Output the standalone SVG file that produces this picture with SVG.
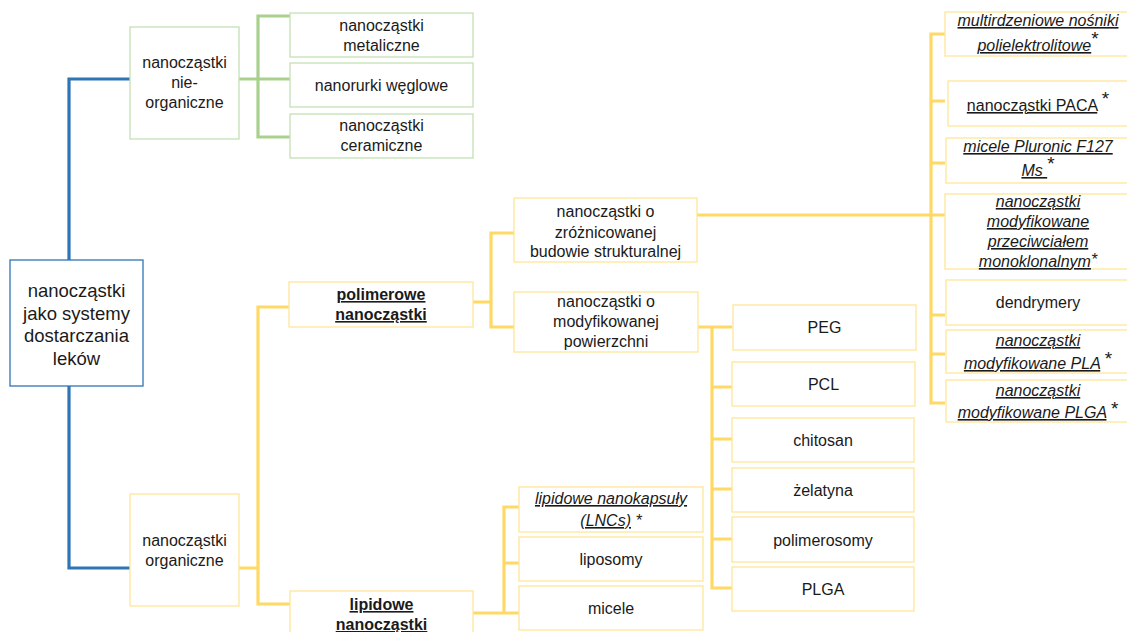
<svg xmlns="http://www.w3.org/2000/svg" width="1127" height="632" viewBox="0 0 1127 632">
<style>
.bx{fill:#fff;stroke-width:1.3}
.bb{stroke:#2E75B6}
.bg{stroke:#C5E0B4}
.by{stroke:#FFE699}
.cb{stroke:#2E75B6;stroke-width:3.2;fill:none}
.cg{stroke:#A9D18E;stroke-width:3.2;fill:none}
.cy{stroke:#FFD966;stroke-width:3.2;fill:none}
text{font-family:"Liberation Sans",Arial,sans-serif;font-size:16px;fill:#1a1a1a;text-anchor:middle}
.r{font-size:18.5px}
.bo{font-weight:bold;text-decoration:underline}
.it{font-style:italic}
.u{text-decoration:underline}
.st{font-size:19px;font-style:normal}
</style>
<rect width="1127" height="632" fill="#fff"/>
<g id="connectors">
<path class="cb" d="M130,79H69V260M69,386V568H130"/>
<path class="cg" d="M239,79H258M290,16H258V137H290M258,79H290"/>
<path class="cy" d="M239,568H258M289,307H258V604H290"/>
<path class="cy" d="M473,302H491M514,233H491V327H514"/>
<path class="cy" d="M697,215H931M945,34H931V403H945M931,101H945M931,163H945M931,215H945M931,315H945M931,354H945"/>
<path class="cy" d="M698,327H712M732,327H712V588H732M712,387H732M712,439H732M712,489H732M712,539H732"/>
<path class="cy" d="M473,613H504M519,507H504V613H519M504,563H519"/>
</g>
<g id="root"><rect class="bx bb" x="10" y="260" width="133" height="126"/>
<text class="r" x="76.5" y="297">nanocząstki</text><text class="r" x="76.5" y="320">jako systemy</text><text class="r" x="76.5" y="342">dostarczania</text><text class="r" x="76.5" y="365">leków</text></g>
<g id="nieorganiczne"><rect class="bx bg" x="130" y="27" width="109" height="112"/>
<text x="184.5" y="68">nanocząstki</text><text x="184.5" y="88">nie-</text><text x="184.5" y="108">organiczne</text></g>
<g id="metaliczne"><rect class="bx bg" x="290" y="13" width="183" height="44"/>
<text x="381.5" y="31">nanocząstki</text><text x="381.5" y="51">metaliczne</text></g>
<g id="nanorurki"><rect class="bx bg" x="290" y="63" width="183" height="44"/>
<text x="381.5" y="91">nanorurki węglowe</text></g>
<g id="ceramiczne"><rect class="bx bg" x="290" y="114" width="183" height="44"/>
<text x="381.5" y="131">nanocząstki</text><text x="381.5" y="151">ceramiczne</text></g>
<g id="organiczne"><rect class="bx by" x="130" y="494" width="109" height="112"/>
<text x="184.5" y="546">nanocząstki</text><text x="184.5" y="566">organiczne</text></g>
<g id="polimerowe"><rect class="bx by" x="289" y="282" width="184" height="45"/>
<text class="bo" x="381" y="300">polimerowe</text><text class="bo" x="381" y="320">nanocząstki</text></g>
<g id="lipidowe"><rect class="bx by" x="290" y="591" width="183" height="50"/>
<text class="bo" x="381.5" y="610">lipidowe</text><text class="bo" x="381.5" y="630">nanocząstki</text></g>
<g id="zroznicowanej"><rect class="bx by" x="514" y="198" width="183" height="64"/>
<text x="605.5" y="217">nanocząstki o</text><text x="605.5" y="238">zróżnicowanej</text><text x="605.5" y="257">budowie strukturalnej</text></g>
<g id="modyfikowanej"><rect class="bx by" x="514" y="292" width="184" height="60"/>
<text x="606" y="307">nanocząstki o</text><text x="606" y="327">modyfikowanej</text><text x="606" y="347">powierzchni</text></g>
<g id="PEG"><rect class="bx by" x="733" y="305" width="183" height="45"/><text x="824.5" y="333">PEG</text></g>
<g id="PCL"><rect class="bx by" x="732" y="362" width="183" height="44"/><text x="823.5" y="390">PCL</text></g>
<g id="chitosan"><rect class="bx by" x="732" y="418" width="182" height="44"/><text x="823" y="446">chitosan</text></g>
<g id="zelatyna"><rect class="bx by" x="732" y="468" width="182" height="44"/><text x="823" y="496">żelatyna</text></g>
<g id="polimerosomy"><rect class="bx by" x="732" y="517" width="182" height="45"/><text x="823" y="546">polimerosomy</text></g>
<g id="PLGA"><rect class="bx by" x="732" y="567" width="182" height="44"/><text x="823" y="595">PLGA</text></g>
<g id="LNCs"><rect class="bx by" x="519" y="487" width="184" height="45"/>
<text class="it" x="611" y="504"><tspan class="u">lipidowe nanokapsuły</tspan></text>
<text class="it" x="611" y="526"><tspan class="u">(LNCs)</tspan> *</text></g>
<g id="liposomy"><rect class="bx by" x="519" y="537" width="184" height="44"/><text x="611" y="565">liposomy</text></g>
<g id="micele"><rect class="bx by" x="519" y="586" width="184" height="44"/><text x="611" y="614">micele</text></g>
<g id="multirdzeniowe"><rect class="bx by" x="945" y="12" width="185" height="44"/>
<text class="it" x="1038" y="26"><tspan class="u">multirdzeniowe nośniki</tspan></text>
<text class="it" x="1038" y="51"><tspan class="u">polielektrolitowe</tspan><tspan class="st" dy="-6">*</tspan></text></g>
<g id="PACA"><rect class="bx by" x="948" y="81" width="185" height="45"/>
<text x="1038" y="111"><tspan class="u">nanocząstki PACA</tspan> <tspan class="st" dy="-6">*</tspan></text></g>
<g id="pluronic"><rect class="bx by" x="946" y="138" width="185" height="45"/>
<text class="it" x="1038" y="152"><tspan class="u">micele Pluronic F127</tspan></text>
<text class="it" x="1038" y="176"><tspan class="u">Ms </tspan><tspan class="st" dy="-6">*</tspan></text></g>
<g id="monoklonalnym"><rect class="bx by" x="945" y="194" width="185" height="75"/>
<text class="it u" x="1038" y="207">nanocząstki</text>
<text class="it u" x="1038" y="227">modyfikowane</text>
<text class="it u" x="1038" y="247">przeciwciałem</text>
<text class="it" x="1038" y="267"><tspan class="u">monoklonalnym</tspan><tspan dy="-2">*</tspan></text></g>
<g id="dendrymery"><rect class="bx by" x="946" y="280" width="185" height="45"/><text x="1038" y="308">dendrymery</text></g>
<g id="PLA"><rect class="bx by" x="946" y="330" width="185" height="43"/>
<text class="it u" x="1038" y="346">nanocząstki</text>
<text class="it" x="1038" y="369"><tspan class="u">modyfikowane PLA</tspan> <tspan class="st" dy="-4">*</tspan></text></g>
<g id="PLGAmod"><rect class="bx by" x="946" y="380" width="185" height="42"/>
<text class="it u" x="1038" y="396">nanocząstki</text>
<text class="it" x="1038" y="418"><tspan class="u">modyfikowane PLGA</tspan> <tspan class="st" dy="-3">*</tspan></text></g>
</svg>
